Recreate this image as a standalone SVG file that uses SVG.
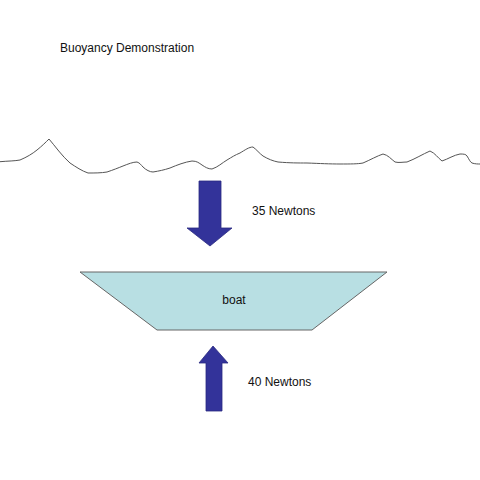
<svg xmlns="http://www.w3.org/2000/svg" width="480" height="480" viewBox="0 0 480 480">
<style>
text{font-family:"Liberation Sans",Arial,sans-serif;font-size:12px;fill:#111}
.arrow{fill:#33339a;stroke:#2a2a80;stroke-width:0.8}
</style>
<rect width="480" height="480" fill="#fff"/>
<text x="60" y="52">Buoyancy Demonstration</text>
<g id="water">
<path d="M0,161.7 C8,161 15,161 20,160 C27,157 32,154 37,150 C42,146 46,142 49,139 C55,146 62,156 70,163 C76,167 82,171 88,173 C95,173 101,173 107,172 C113,170 118,168 123,166 C128,164 133,162 137,162 C140,163 141,165 143,167 C146,170 150,172 153,172 C159,171 164,170 170,168 C177,165 185,162 192,161 C197,161 199,163 202,165 C205,167 208,169 212,169 C218,167 222,163 227,160 C232,157 235,155 240,153 C245,150 249,147 253,147 C257,150 259,153 263,156 C268,159 273,161 278,162 C290,163 298,163 307,163 C320,163.5 330,164 340,164 C350,164 358,164 363,163 C370,160 377,156 383,154 C388,155 391,159 395,162 C399,163 403,162 407,162 C415,159 423,154 430,151 C435,153 438,158 442,161 C448,159 454,155 460,154 C463,154 466,154 467,156 C469,159 470,162 472,163 C475,164 478,164 480,164" fill="none" stroke="#555" stroke-width="1"/>
</g>
<g id="force-down">
<polygon class="arrow" points="199,181 221,181 221,228 232,228 210,246 187,228 199,228"/>
<text x="252" y="215">35 Newtons</text>
</g>
<g id="boat">
<polygon points="80,272 387,272 312,330 157,330" fill="#b8dfe3" stroke="#666" stroke-width="1"/>
<text x="234" y="304" text-anchor="middle">boat</text>
</g>
<g id="force-up">
<polygon class="arrow" points="213,346 228,363 222,363 222,411 206,411 206,363 199,363"/>
<text x="248" y="386">40 Newtons</text>
</g>
</svg>
